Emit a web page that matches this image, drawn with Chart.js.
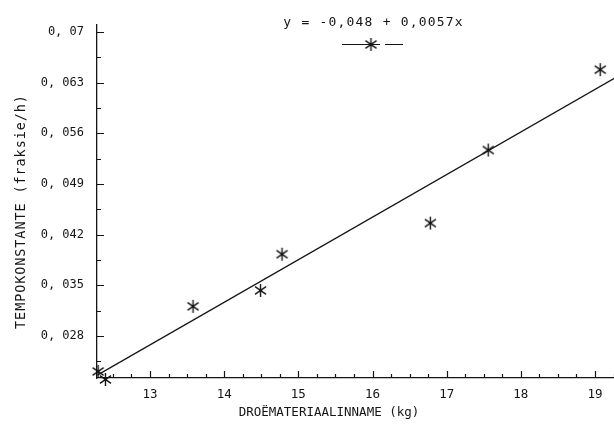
<!DOCTYPE html>
<html><head><meta charset="utf-8">
<script src="https://cdn.jsdelivr.net/npm/chart.js@4"></script>
<style>html,body{margin:0;padding:0;background:#fff}#c{display:block}</style>
</head><body>
<div style="width:614px;height:428px"><canvas id="c" width="614" height="428"></canvas></div>
<script>
// ---- data ----
const intakeKg  = [12.30, 12.40, 13.58, 14.49, 14.78, 16.78, 17.56, 19.07];
const rateConst = [0.0231, 0.0220, 0.0321, 0.0343, 0.0393, 0.0436, 0.0537, 0.0648];
const fitX = [12.29, 19.26];
const fitY = [0.0226, 0.0636];
const xTickValues = [13, 14, 15, 16, 17, 18, 19];
const xTickLabels = ['13', '14', '15', '16', '17', '18', '19'];
const yTickValues = [0.028, 0.035, 0.042, 0.049, 0.056, 0.063, 0.07];
const yTickLabels = ['0, 028', '0, 035', '0, 042', '0, 049', '0, 056', '0, 063', '0, 07'];
const equationText = 'y = -0,048 + 0,0057x';
const xTitle = 'DROËMATERIAALINNAME (kg)';
const yTitle = 'TEMPOKONSTANTE (fraksie/h)';

const FONT = "'DejaVu Sans Mono', 'Liberation Mono', monospace";
const INK = '#151515';

function makeStar(size) {
  const c = document.createElement('canvas');
  c.width = size; c.height = size;
  const g = c.getContext('2d');
  const m = size / 2, r = size / 2 - 1;
  g.strokeStyle = INK; g.lineWidth = 1.4; g.lineCap = 'butt';
  g.beginPath();
  g.moveTo(m, m - r); g.lineTo(m, m + r);
  g.moveTo(m - r * 0.85, m - r * 0.6); g.lineTo(m + r * 0.85, m + r * 0.6);
  g.moveTo(m - r * 0.85, m + r * 0.6); g.lineTo(m + r * 0.85, m - r * 0.6);
  g.stroke();
  g.fillStyle = INK;
  g.fillRect(m - 1.5, m - 1.5, 3, 3);
  return c;
}
const star = makeStar(15);

function spacedText(ctx, text, cx, cy, spacing) {
  // draw centred text with extra spacing between characters
  const w = ctx.measureText(text).width + spacing * (text.length - 1);
  let x = cx - w / 2;
  ctx.textAlign = 'left';
  for (const ch of text) {
    ctx.fillText(ch, x, cy);
    x += ctx.measureText(ch).width + spacing;
  }
}

const decorPlugin = {
  id: 'decor',
  afterDraw(chart) {
    const ctx = chart.ctx, xs = chart.scales.x, ys = chart.scales.y;
    const a = chart.chartArea;
    ctx.save();
    ctx.strokeStyle = INK; ctx.lineWidth = 1.2;
    // x ticks (inward)
    ctx.beginPath();
    for (let q = 50; q <= 77; q++) {
      const v = q / 4;
      if (v <= xs.min || v > xs.max) continue;
      const px = Math.round(xs.getPixelForValue(v)) + 0.5;
      const len = (q % 4 === 0) ? 7 : 4;
      ctx.moveTo(px, a.bottom); ctx.lineTo(px, a.bottom - len);
    }
    // y ticks (inward)
    for (let q = 7; q <= 20; q++) {
      const v = q * 0.0035;
      if (v < ys.min || v > ys.max) continue;
      const py = Math.round(ys.getPixelForValue(v)) + 0.5;
      const len = (q % 2 === 0) ? 7 : 4;
      ctx.moveTo(a.left, py); ctx.lineTo(a.left + len, py);
    }
    ctx.stroke();
    // titles
    ctx.fillStyle = INK;
    ctx.font = '12.5px ' + FONT;
    ctx.textBaseline = 'middle';
    ctx.textAlign = 'center';
    ctx.fillText(xTitle, 329, 413);
    ctx.save();
    ctx.translate(21, 212);
    ctx.rotate(-Math.PI / 2);
    ctx.font = '13.5px ' + FONT;
    spacedText(ctx, yTitle, 0, 0, 0.9);
    ctx.restore();
    // equation legend
    ctx.font = '13px ' + FONT;
    spacedText(ctx, equationText, 373, 23, 1.2);
    ctx.beginPath();
    ctx.moveTo(342, 44.5); ctx.lineTo(380, 44.5);
    ctx.moveTo(385, 44.5); ctx.lineTo(403, 44.5);
    ctx.stroke();
    ctx.drawImage(star, 371 - 7.5, 44.5 - 7.5);
    ctx.restore();
  }
};

new Chart(document.getElementById('c'), {
  data: {
    datasets: [
      {
        type: 'scatter',
        label: 'data',
        data: intakeKg.map((x, i) => ({ x, y: rateConst[i] })),
        pointStyle: star,
        pointRadius: 7,
        clip: false
      },
      {
        type: 'line',
        label: 'fit',
        data: fitX.map((x, i) => ({ x, y: fitY[i] })),
        borderColor: INK,
        borderWidth: 1.2,
        pointRadius: 0,
        fill: false,
        clip: false
      }
    ]
  },
  plugins: [decorPlugin],
  options: {
    responsive: false,
    animation: false,
    devicePixelRatio: 1,
    layout: { autoPadding: false, padding: { top: 25, left: 0, right: 0, bottom: 0 } },
    plugins: { legend: { display: false }, tooltip: { enabled: false }, title: { display: false } },
    scales: {
      x: {
        type: 'linear',
        min: 12.2854, max: 19.256,
        afterBuildTicks: s => { s.ticks = xTickValues.map(v => ({ value: v })); },
        afterFit: s => { s.height = 50; },
        grid: { display: false, drawTicks: false },
        border: { display: true, color: INK, width: 1.3 },
        ticks: {
          color: INK, padding: 9, maxRotation: 0, autoSkip: false,
          font: { family: FONT, size: 12.5 },
          callback: (v) => { const i = xTickValues.indexOf(v); return i >= 0 ? xTickLabels[i] : ''; }
        }
      },
      y: {
        type: 'linear',
        min: 0.0222, max: 0.07097,
        afterBuildTicks: s => { s.ticks = yTickValues.map(v => ({ value: v })); },
        afterFit: s => { s.width = 97; },
        grid: { display: false, drawTicks: false },
        border: { display: true, color: INK, width: 1.3 },
        ticks: {
          color: INK, padding: 13, autoSkip: false,
          font: { family: FONT, size: 12 },
          callback: (v) => { const i = yTickValues.findIndex(t => Math.abs(t - v) < 1e-9); return i >= 0 ? yTickLabels[i] : ''; }
        }
      }
    }
  }
});
</script>
</body></html>
